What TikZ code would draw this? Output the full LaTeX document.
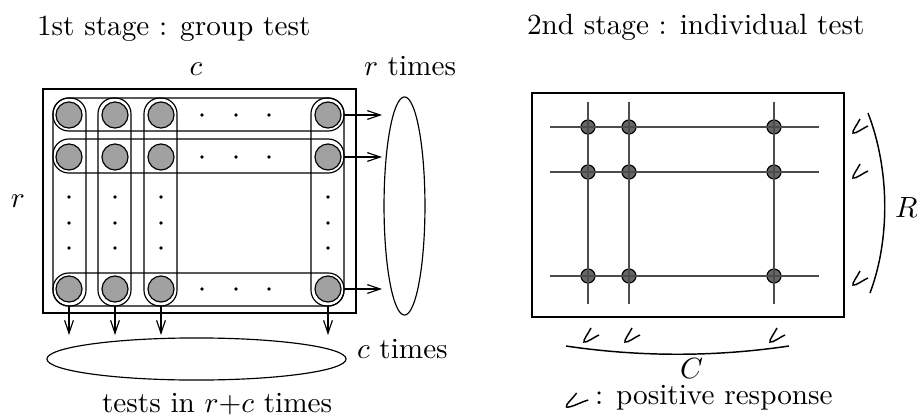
\documentclass[tikz,border=0pt]{standalone}
\usetikzlibrary{arrows.meta,shapes.geometric}
\begin{document}
\begin{tikzpicture}[x=0.342pt,y=-0.342pt,
  every node/.style={inner sep=0pt, outer sep=0pt},
  frame/.style={draw, line width=0.7pt},
  group/.style={draw, line width=0.4pt, rounded corners=5.4pt},
  cell/.style={circle, draw, fill=black!37, minimum size=8.9pt, line width=0.4pt},
  hit/.style={circle, draw, fill=black!60, minimum size=4.8pt, line width=0.4pt},
  gridline/.style={draw=black!70, line width=0.5pt},
  outarrow/.style={-{Straight Barb[length=4.4pt,width=3pt]}, line width=0.4pt},
  gdot/.style={circle, fill=black, minimum size=1.3pt},
  pool/.style={ellipse, draw, line width=0.4pt},
  lbl/.style={anchor=base west},
  brace/.style={draw, line width=0.5pt},
  posmark/.pic={\draw[line width=0.5pt] (8,-14) .. controls (5,-8) and (0,-2) .. (1,0) .. controls (4,1) and (11,-5) .. (16,-7);}
]
\useasboundingbox (0,0) rectangle (917,417);

% ---------- left panel ----------
\node[lbl] (title1) at (37,35) {1st stage : group test};
\node[anchor=base] (labc) at (196,75) {$c$};
\node[anchor=base] (labr) at (18,207) {$r$};
\node[lbl] (rtimes) at (364,75) {$r$ times};
\node[lbl] (ctimes) at (357,358) {$c$ times};
\node[lbl] (total) at (102,412) {tests in $r$+$c$ times};

\draw[frame] (43,89) rectangle (356,313);

% row groups
\draw[group] (53,98) rectangle (344,131);
\draw[group] (53,139) rectangle (344,173);
\draw[group] (53,273) rectangle (344,306);
% column groups
\foreach \xa/\xb in {53/86,98/131,144/177,311/344}
  \draw[group] (\xa,98) rectangle (\xb,306);

% cells
\foreach \y/\i in {115/1,157/2,289/3}
  \foreach \x/\j in {69/1,115/2,161/3,328/4}
    \node[cell] (a\i\j) at (\x,\y) {};

% ellipsis dots
\foreach \y/\i in {115/1,157/2,289/3}
  \foreach \x/\j in {202/1,236/2,269/3}
    \node[gdot] (hd\i\j) at (\x,\y) {};
\foreach \x/\j in {69/1,115/2,161/3,328/4}
  \foreach \y/\i in {197/1,223/2,248/3}
    \node[gdot] (vd\j\i) at (\x,\y) {};

% pools
\node[pool, minimum width=14pt, minimum height=74.6pt] (poolr) at (404.5,206) {};
\node[pool, minimum width=102.3pt, minimum height=14.4pt] (poolc) at (196.5,359) {};

% row arrows
\foreach \y/\i in {115/1,157/2,289/3}{
  \coordinate (rs\i) at (344,\y);
  \coordinate (re\i) at (382,\y);
  \draw[outarrow] (rs\i) -- (re\i);
}
% column arrows
\foreach \x/\j in {69/1,115/2,161/3,328/4}{
  \coordinate (cs\j) at (\x,306);
  \coordinate (ce\j) at (\x,335);
  \draw[outarrow] (cs\j) -- (ce\j);
}

% ---------- right panel ----------
\node[lbl] (title2) at (527,34) {2nd stage : individual test};
\draw[frame] (532,93) rectangle (844,317);

\foreach \y/\i in {127/1,172/2,276/3}
  \foreach \x/\j in {588/1,629/2,774/3}
    \node[hit] (h\i\j) at (\x,\y) {};

\foreach \y/\i in {127/1,172/2,276/3}{
  \coordinate (hl\i) at (550,\y);
  \coordinate (hr\i) at (819,\y);
  \draw[gridline] (hl\i) -- (hr\i);
}
\foreach \x/\j in {588/1,629/2,774/3}{
  \coordinate (vt\j) at (\x,102);
  \coordinate (vb\j) at (\x,304);
  \draw[gridline] (vt\j) -- (vb\j);
}

% positive marks
\pic at (852,133) {posmark};
\pic at (852,178) {posmark};
\pic at (852,285) {posmark};
\pic at (583,342) {posmark};
\pic at (624,342) {posmark};
\pic at (769,342) {posmark};

% braces
\coordinate (bra) at (868,113);
\coordinate (brb) at (870,293);
\draw[brace] (bra) .. controls (890,170) and (890,240) .. (brb);
\coordinate (bca) at (566,346);
\coordinate (bcb) at (789,346);
\draw[brace] (bca) .. controls (640,357) and (715,357) .. (bcb);

\node[lbl] (labR) at (895,217) {$R$};
\node[lbl] (labC) at (680,378) {$C$};

% legend
\pic[xscale=1.45] at (565,407) {posmark};
\node[lbl] (legend) at (595,404) {: positive response};
\end{tikzpicture}
\end{document}
